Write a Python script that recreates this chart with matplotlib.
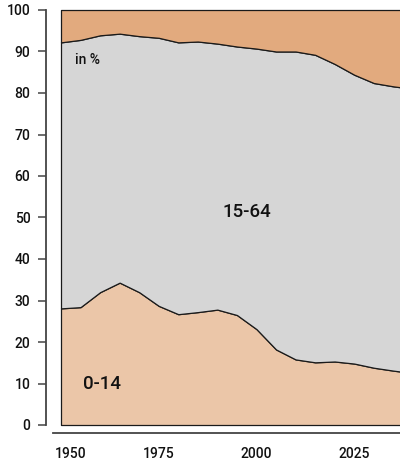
import matplotlib.pyplot as plt
import matplotlib.transforms as mtransforms
from matplotlib.ticker import FixedLocator

plt.rcParams['font.family'] = ['Roboto', 'DejaVu Sans']
plt.rcParams['font.weight'] = 'medium'

# share of population by age group, in %
years = [1950, 1955, 1960, 1965, 1970, 1975, 1980, 1985, 1990, 1995,
         2000, 2005, 2010, 2015, 2020, 2025, 2030, 2035, 2040]
age_0_14 = [28.1, 28.4, 32.0, 34.3, 32.0, 28.7, 26.7, 27.2, 27.8, 26.5,
            23.1, 18.2, 15.8, 15.1, 15.3, 14.8, 13.8, 13.1, 12.5]
top_15_64 = [92.2, 92.8, 93.9, 94.3, 93.7, 93.3, 92.2, 92.4, 91.9, 91.2,
             90.7, 90.0, 90.0, 89.2, 87.0, 84.4, 82.4, 81.6, 81.0]
age_15_64 = [t - c for t, c in zip(top_15_64, age_0_14)]
age_65 = [100 - t for t in top_15_64]

x_ticks = [1950, 1975, 2000, 2025]
y_ticks = list(range(0, 101, 10))

fig = plt.figure(figsize=(4.0, 4.63), dpi=100)
ax = fig.add_axes([61 / 400, 1 - 425 / 463, 1 - 61 / 400, (425 - 10) / 463])

polys = ax.stackplot(years, age_0_14, age_15_64, age_65,
                     colors=['#ebc6a8', '#d6d6d6', '#e2aa7e'],
                     edgecolor='#1a1a1a', linewidth=0.9)
for p in polys:
    p.set_clip_on(False)

ax.set_xlim(1950, 2036.7)
ax.set_ylim(0, 100)

for s in ['top', 'right']:
    ax.spines[s].set_visible(False)
ax.spines['left'].set_position(('outward', 11))
ax.spines['bottom'].set_position(('outward', 6))
ax.spines['left'].set_color('#444444')
ax.spines['bottom'].set_color('#444444')
ax.spines['left'].set_linewidth(1.3)
ax.spines['bottom'].set_linewidth(1.3)
ax.spines['bottom'].set_bounds(1948, 2036.7)

ax.set_yticks(y_ticks)
ax.tick_params(axis='y', length=6, width=1.1, color='#444444', pad=5,
               labelsize=10, labelcolor='#111111')

ax.xaxis.set_major_locator(FixedLocator(x_ticks))
ax.set_xticklabels([str(y) for y in x_ticks])
ax.xaxis.set_minor_locator(FixedLocator([1948]))
ax.tick_params(axis='x', which='major', length=0, pad=10,
               labelsize=10, labelcolor='#111111')
ax.tick_params(axis='x', which='minor', length=5, width=1.1,
               color='#444444')
first = ax.get_xticklabels()[0]
first.set_transform(first.get_transform() +
                    mtransforms.ScaledTranslation(10 / 100, 0, fig.dpi_scale_trans))

ax.text(1953.5, 88.0, 'in %', fontsize=10, color='#111111', va='center', ha='left')
ax.text(1997.5, 51.3, '15-64', fontsize=13.5, color='#111111', va='center', ha='center')
ax.text(1960.5, 9.9, '0-14', fontsize=13.5, color='#111111', va='center', ha='center')

fig.savefig('out.png', dpi=100)
plt.close(fig)
